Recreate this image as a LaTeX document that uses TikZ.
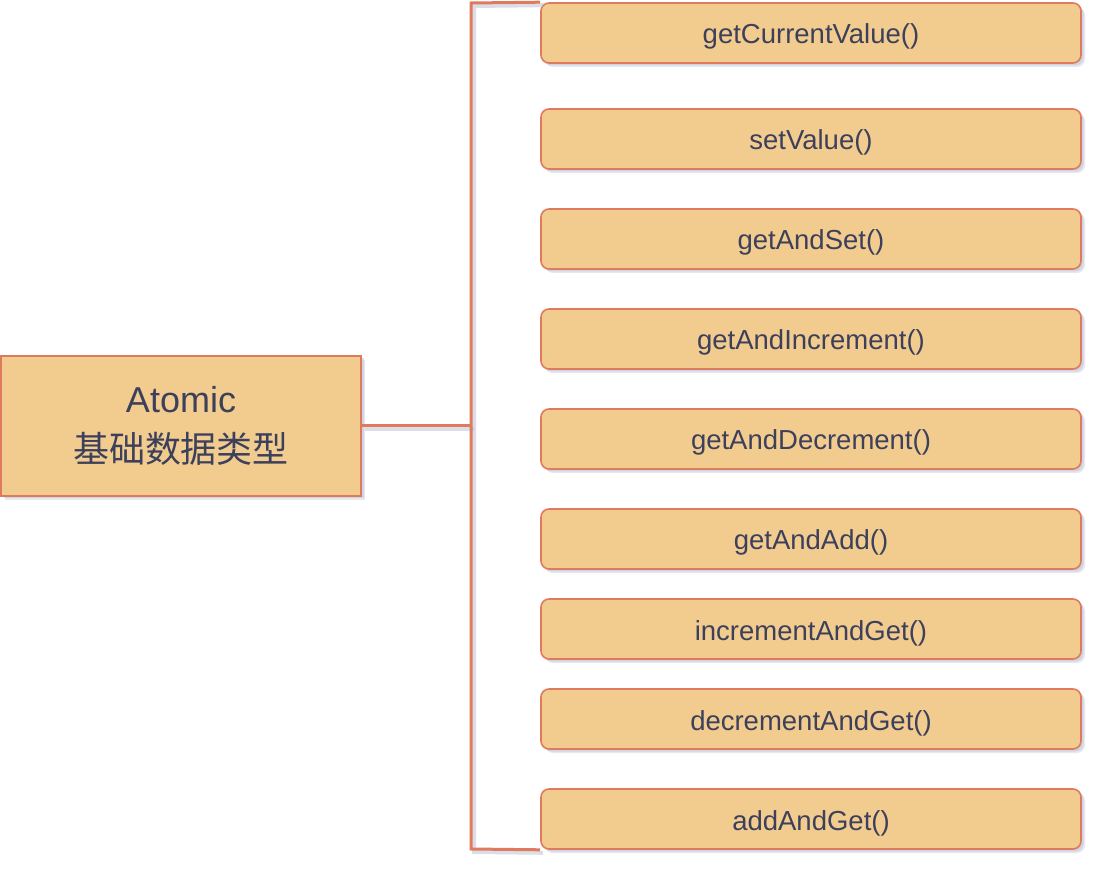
\documentclass[tikz,border=0pt]{standalone}
\usepackage{fontspec}
\setmainfont{Liberation Sans}
\newfontfamily\cjk{Noto Sans CJK SC}
\usetikzlibrary{shadows}
\definecolor{boxfill}{HTML}{F2CC8F}
\definecolor{boxline}{HTML}{E07A5F}
\definecolor{txt}{HTML}{3D405B}
\definecolor{shadowc}{HTML}{B8BCD0}
\tikzset{
  shad/.style={general shadow={shadow xshift=4pt, shadow yshift=-4pt, fill=shadowc, opacity=0.35},
               general shadow={shadow xshift=2.5pt, shadow yshift=-2.5pt, fill=shadowc, opacity=0.45}},
  method/.style={shad, draw=boxline, fill=boxfill, line width=1.6pt, rounded corners=8pt,
    minimum width=540pt, minimum height=60pt, inner sep=0pt, text=txt,
    text height=22pt, text depth=0pt,
    font=\fontsize{27.5}{32}\selectfont},
  rootbox/.style={shad, draw=boxline, fill=boxfill, line width=2pt,
    minimum width=360pt, minimum height=140pt, inner sep=0pt, text=txt, align=center,
    font=\fontsize{36}{50}\selectfont},
  link/.style={draw=boxline, line width=3pt},
  linkshadow/.style={draw=shadowc, line width=4pt, opacity=0.5},
}
\begin{document}
\begin{tikzpicture}[x=1pt,y=-1pt]
\useasboundingbox (0,0) rectangle (1104,874);
\node[rootbox] (root) at (181,426) {Atomic\\{\cjk 基础数据类型}};
\node[method] (m1) at (811,33) {getCurrentValue()};
\node[method] (m2) at (811,139) {setValue()};
\node[method] (m3) at (811,239) {getAndSet()};
\node[method] (m4) at (811,339) {getAndIncrement()};
\node[method] (m5) at (811,439) {getAndDecrement()};
\node[method] (m6) at (811,539) {getAndAdd()};
\node[method] (m7) at (811,629) {incrementAndGet()};
\node[method] (m8) at (811,719) {decrementAndGet()};
\node[method] (m9) at (811,819) {addAndGet()};
\coordinate (bt) at (471,3);
\coordinate (bm) at (471,426);
\coordinate (bb) at (471,849);
\begin{scope}[transform canvas={shift={(3pt,-3pt)}}]
\draw[linkshadow] (m1.north west) -- (bt) -- (bb) -- (m9.south west);
\draw[linkshadow] (root.east) -- (bm);
\end{scope}
\draw[link] (m1.north west) -- (bt) -- (bb) -- (m9.south west);
\draw[link] (root.east) -- (bm);
\end{tikzpicture}
\end{document}
